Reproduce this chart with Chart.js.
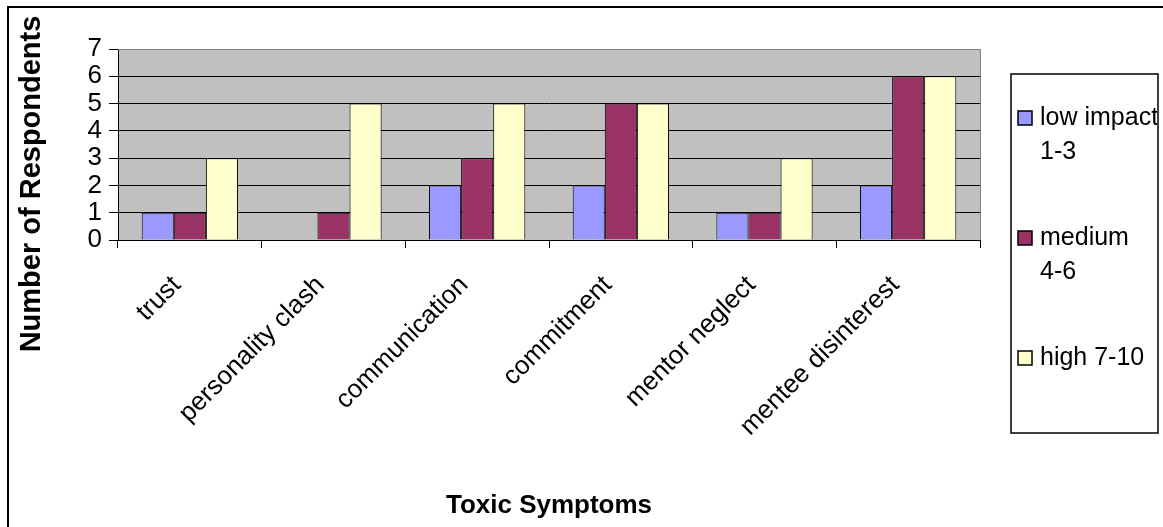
<!DOCTYPE html>
<html>
<head>
<meta charset="utf-8">
<script src="https://cdn.jsdelivr.net/npm/chart.js@4/dist/chart.umd.min.js"></script>
<style>
  html, body { margin: 0; padding: 0; background: #fff; }
  #wrap { width: 1163px; height: 527px; }
</style>
</head>
<body>
<div id="wrap"><canvas id="chart" width="1163" height="527"></canvas></div>
<script>
// data
const categories = ['trust', 'personality clash', 'communication', 'commitment', 'mentor neglect', 'mentee disinterest'];
const lowImpact = [1, 0, 2, 2, 1, 2];
const mediumImpact = [1, 1, 3, 5, 1, 6];
const highImpact = [3, 5, 5, 5, 3, 6];
const seriesLabels = [['low impact', '1-3'], ['medium', '4-6'], ['high 7-10']];
const seriesColors = ['#9999FF', '#993366', '#FFFFCC'];
const yTicks = [0, 1, 2, 3, 4, 5, 6, 7];
const xTitle = 'Toxic Symptoms';
const yTitle = 'Number of Respondents';

const FONT = "'Liberation Sans', Arial, sans-serif";

// gray plot background, outer frame, y title and boxed legend
const decor = {
  id: 'decor',
  beforeDraw(chart) {
    const { ctx, chartArea: a } = chart;
    ctx.save();
    ctx.fillStyle = '#C0C0C0';
    ctx.fillRect(a.left, a.top, a.right - a.left, a.bottom - a.top);
    ctx.restore();
  },
  afterDraw(chart) {
    const { ctx, chartArea: a } = chart;
    ctx.save();

    // gray edge on top and right of plot
    ctx.strokeStyle = '#808080';
    ctx.lineWidth = 1;
    ctx.beginPath();
    ctx.moveTo(a.left, a.top + 0.5);
    ctx.lineTo(a.right + 0.5, a.top + 0.5);
    ctx.lineTo(a.right + 0.5, a.bottom);
    ctx.stroke();

    // outer frame (cut by the window on right and bottom)
    ctx.strokeStyle = '#000';
    ctx.lineWidth = 2;
    ctx.beginPath();
    ctx.moveTo(8, 530);
    ctx.lineTo(8, 7);
    ctx.lineTo(1170, 7);
    ctx.stroke();

    // y axis title
    ctx.save();
    ctx.translate(32, 184);
    ctx.rotate(-Math.PI / 2);
    ctx.fillStyle = '#000';
    ctx.font = 'bold 29px ' + FONT;
    ctx.textAlign = 'center';
    ctx.textBaseline = 'middle';
    ctx.fillText(yTitle, 0, 0);
    ctx.restore();

    // legend box
    const L = 1011, T = 74, R = 1158, B = 433;
    ctx.fillStyle = '#fff';
    ctx.fillRect(L, T, R - L, B - T);
    ctx.strokeStyle = '#000';
    ctx.lineWidth = 1.5;
    ctx.strokeRect(L, T, R - L, B - T);
    ctx.beginPath();
    ctx.rect(L, T, R - L - 1, B - T);
    ctx.clip();
    ctx.font = '25px ' + FONT;
    ctx.textAlign = 'left';
    ctx.textBaseline = 'middle';
    let y = 118;
    chart.data.datasets.forEach((ds, i) => {
      ctx.fillStyle = ds.backgroundColor;
      ctx.fillRect(1018, y - 7, 14, 14);
      ctx.lineWidth = 1.5;
      ctx.strokeStyle = '#000';
      ctx.strokeRect(1018, y - 7, 14, 14);
      ctx.fillStyle = '#000';
      seriesLabels[i].forEach((line, j) => ctx.fillText(line, 1040, y + j * 34));
      y += 120;
    });
    ctx.restore();
  }
};

const ctx = document.getElementById('chart').getContext('2d');
new Chart(ctx, {
  type: 'bar',
  data: {
    labels: categories,
    datasets: [lowImpact, mediumImpact, highImpact].map((d, i) => ({
      label: seriesLabels[i].join(' '),
      data: d,
      backgroundColor: seriesColors[i],
      borderColor: '#000',
      borderWidth: 1,
      categoryPercentage: 0.67,
      barPercentage: 1.0
    }))
  },
  options: {
    responsive: false,
    animation: false,
    devicePixelRatio: 1,
    layout: { padding: { left: 10, top: 49, right: 183, bottom: 3 } },
    plugins: {
      legend: { display: false },
      tooltip: { enabled: false }
    },
    scales: {
      x: {
        grid: { display: true, drawOnChartArea: false, offset: true, color: '#000', tickLength: 8 },
        border: { color: '#000', width: 1 },
        ticks: {
          color: '#000',
          font: { family: FONT, size: 26 },
          minRotation: 45,
          maxRotation: 45,
          autoSkip: false,
          padding: 22,
          labelOffset: -13
        },
        title: {
          display: true,
          text: xTitle,
          color: '#000',
          font: { family: FONT, size: 26, weight: 'bold' },
          padding: { top: 0, bottom: 3 }
        },
        afterFit(scale) { scale.height = 284; }
      },
      y: {
        min: yTicks[0],
        max: yTicks[yTicks.length - 1],
        grid: { color: '#000', tickLength: 9 },
        border: { color: '#000', width: 1 },
        ticks: {
          stepSize: 1,
          autoSkip: false,
          color: '#000',
          padding: 7,
          font: { family: FONT, size: 26 }
        },
        afterFit(scale) { scale.width = 108; }
      }
    }
  },
  plugins: [decor]
});
</script>
</body>
</html>
